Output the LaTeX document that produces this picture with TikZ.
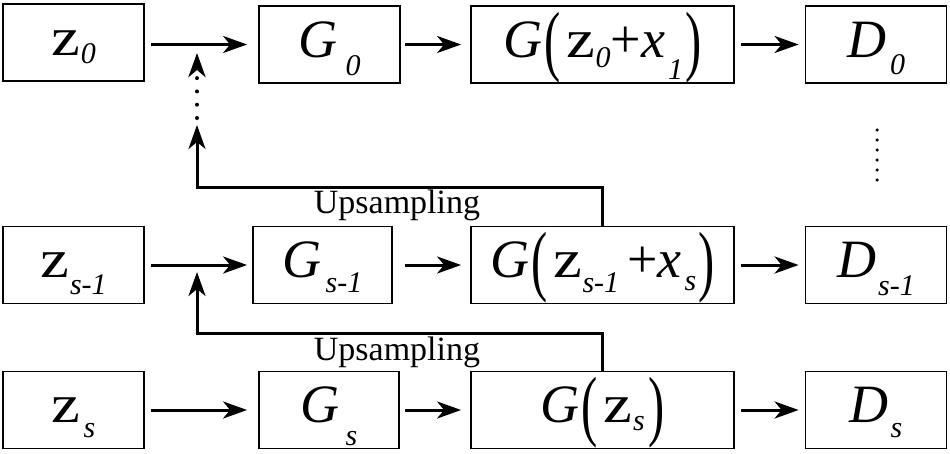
\documentclass[tikz,border=0pt]{standalone}
\usepackage{fontspec}
\setmainfont{Liberation Serif}
\newfontfamily\blockfont{Liberation Serif}
\usetikzlibrary{arrows.meta}

% text sizes of the blocks
\newcommand{\mainf}{\blockfont\fontsize{54}{54}\selectfont}
\newcommand{\subf}{\blockfont\fontsize{30}{30}\selectfont\itshape}
\newcommand{\lsub}[2][16]{\raisebox{-#1pt}{\subf #2}}
\newcommand{\zz}{\scalebox{1.2}[1]{z}}
\newcommand{\bigpar}[1]{\raisebox{-9pt}{\scalebox{0.9}[1.45]{\mainf #1}}}

\tikzset{
  blockbox/.style={draw, line width=1.8pt, minimum height=77pt, inner sep=0pt,
    text height=25pt, text depth=0pt, font=\mainf},
  narrowbox/.style={blockbox, minimum width=141pt},
  widebox/.style={blockbox, minimum width=263pt},
  flow/.style={line width=3pt, -{Stealth[length=24pt,width=17pt,inset=7pt]}},
  dotflow/.style={flow, line width=4pt, line cap=round, dash pattern=on 0pt off 13.3pt},
  uplabel/.style={font=\blockfont\fontsize{34}{34}\selectfont, inner sep=0pt, anchor=base}
}

\begin{document}
\begin{tikzpicture}[x=1pt,y=-1pt]
\useasboundingbox (0,0) rectangle (950,453);

% Row 0
\node[narrowbox] (z0) at (73.5,42.5) {\zz\kern1pt\lsub[8]{0}};
\node[narrowbox] (g0) at (329.5,44.5) {\textit{G}\kern8pt\lsub[18]{0}};
\node[widebox] (c0) at (602.5,44.5) {\textit{G}\kern2pt\bigpar{(}\kern6pt \zz\lsub[10]{0}+\textit{x}\kern3pt\lsub[22]{1}\kern2pt\bigpar{)}};
\node[narrowbox] (d0) at (876,44.5) {\textit{D}\kern4pt\lsub[17]{0}};

% Row s-1
\node[narrowbox] (z1) at (73.5,265) {\zz\kern1pt\lsub[17]{s-1}};
\node[blockbox, minimum width=139pt] (g1) at (322.5,265) {\textit{G}\kern4pt\lsub[15]{s-1}};
\node[widebox] (c1) at (602.5,265) {\textit{G}\kern2pt\bigpar{(}\kern6pt \zz\lsub[15]{s-1}\kern8pt+\textit{x}\kern3pt\lsub[13]{s}\kern2pt\bigpar{)}};
\node[narrowbox] (d1) at (876,265) {\textit{D}\kern2pt\lsub[18]{s-1}};

% Row s
\node[narrowbox] (z2) at (73.5,410) {\zz\kern3pt\lsub[15]{s}};
\node[blockbox, minimum width=140pt] (g2) at (329,410) {\textit{G}\kern6pt\lsub[23]{s}};
\node[widebox] (c2) at (602.5,410) {\textit{G}\kern2pt\bigpar{(}\kern6pt\zz\kern1pt\lsub[8]{s}\kern4pt\bigpar{)}};
\node[narrowbox] (d2) at (876,410) {\textit{D}\kern2pt\lsub[15]{s}};

% horizontal flow
\draw[flow, shorten <=6pt, shorten >=11pt] (z0.east |- g0.west) -- (g0.west);
\draw[flow, shorten <=4pt, shorten >=9pt] (g0.east) -- (c0.west);
\draw[flow, shorten <=6pt, shorten >=6pt] (c0.east) -- (d0.west);
\draw[flow, shorten <=6pt, shorten >=5pt] (z1.east) -- (g1.west);
\draw[flow, shorten <=12pt, shorten >=9pt] (g1.east) -- (c1.west);
\draw[flow, shorten <=6pt, shorten >=6pt] (c1.east) -- (d1.west);
\draw[flow, shorten <=6pt, shorten >=11pt] (z2.east) -- (g2.west);
\draw[flow, shorten <=5pt, shorten >=9pt] (g2.east) -- (c2.west);
\draw[flow, shorten <=6pt, shorten >=6pt] (c2.east) -- (d2.west);

% upsampling paths
\coordinate (turn1) at (197,187);
\coordinate (tip1) at (197,125);
\coordinate (dot1) at (197,53);
\coordinate (turn2) at (197,333);
\coordinate (tip2) at (197,272);
\draw[flow] (c1.north) |- (turn1) -- (tip1);
\draw[dotflow] ([yshift=7pt]tip1) -- (dot1);
\draw[flow] (c2.north) |- (turn2) -- (tip2);
\node[uplabel] (up1) at (397,213) {Upsampling};
\node[uplabel] (up2) at (397,360) {Upsampling};

% dots between the discriminators
\draw[line width=3.5pt, line cap=round, dash pattern=on 0pt off 10pt] (877,130) -- (877,181);
\end{tikzpicture}
\end{document}
